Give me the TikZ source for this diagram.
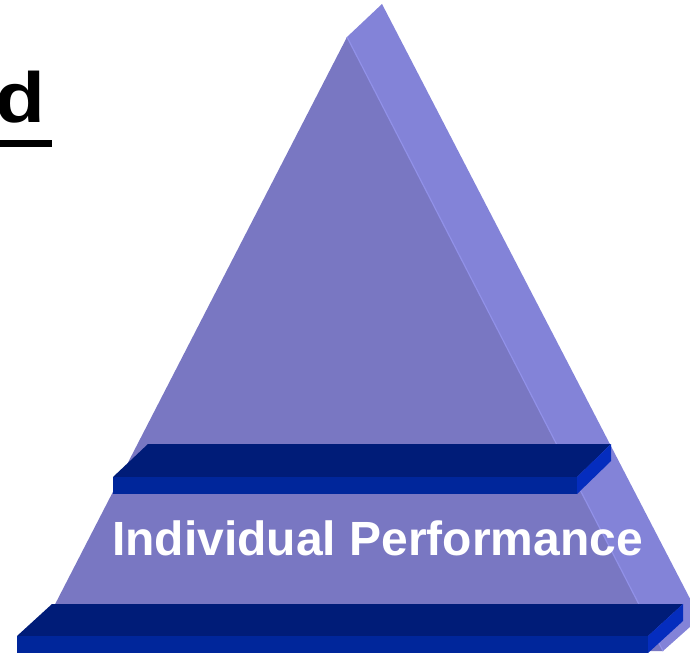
\documentclass[tikz,border=0pt]{standalone}
\usepackage{fontspec}
\setmainfont{Liberation Sans}
\definecolor{frontface}{RGB}{121,119,194}
\definecolor{sideface}{RGB}{131,131,216}
\definecolor{edgehl}{RGB}{145,145,232}
\definecolor{slabtop}{RGB}{0,28,120}
\definecolor{slabfront}{RGB}{0,38,155}
\definecolor{slabside}{RGB}{5,45,190}
\begin{document}
\begin{tikzpicture}[x=1pt,y=-1pt,
  frontstyle/.style={fill=frontface},
  sidestyle/.style={fill=sideface},
  slabtopstyle/.style={fill=slabtop},
  slabfrontstyle/.style={fill=slabfront},
  slabsidestyle/.style={fill=slabside},
  labelstyle/.style={text=white,font=\fontsize{48}{56}\selectfont\bfseries,inner sep=0pt,anchor=base}]
\useasboundingbox (0,0) rectangle (690,655);
% pyramid
\fill[sidestyle] (347,37) -- (382,4) -- (700,618) -- (663,651) -- cycle;
\fill[frontstyle] (347,37) -- (663,651) -- (31,651) -- cycle;
\draw[edgehl,line width=1.2pt] (347,37) -- (663,651);
% upper slab
\fill[slabtopstyle] (113,477) -- (148,444) -- (611,444) -- (577,477) -- cycle;
\fill[slabfrontstyle] (113,477) rectangle (577,494);
\fill[slabsidestyle] (577,477) -- (611,444) -- (611,461) -- (577,494) -- cycle;
% label
\node[labelstyle] (lbl) at (377.5,555) {Individual Performance};
% lower slab
\fill[slabtopstyle] (17,636) -- (52,604) -- (683,604) -- (648,636) -- cycle;
\fill[slabfrontstyle] (17,636) rectangle (648,653);
\fill[slabsidestyle] (648,636) -- (683,604) -- (683,621) -- (648,653) -- cycle;
% clipped title letter
\node[font=\fontsize{71}{80}\selectfont\bfseries,inner sep=0pt,anchor=base east,xscale=1.15] (ttl) at (46,123) {d};
\fill[black] (0,140) rectangle (52,147);
\end{tikzpicture}
\end{document}
